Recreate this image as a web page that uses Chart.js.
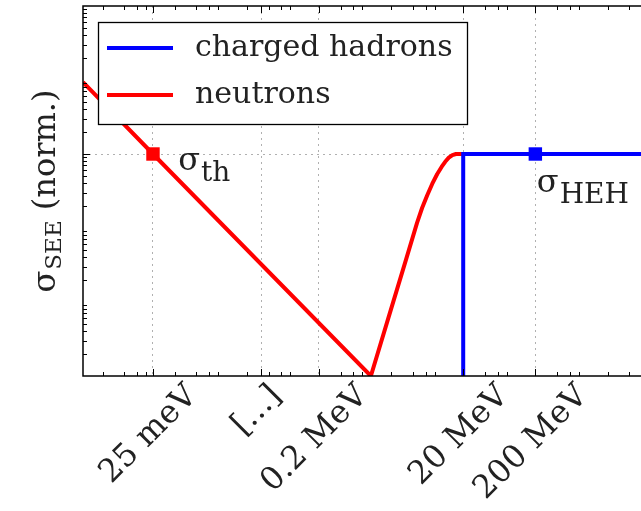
<!DOCTYPE html>
<html>
<head>
<meta charset="utf-8">
<script src="https://cdn.jsdelivr.net/npm/chart.js@4.4.1/dist/chart.umd.min.js"></script>
<style>
  html, body { margin: 0; padding: 0; background: #fff; overflow: hidden; }
  canvas { display: block; }
</style>
</head>
<body>
<canvas id="see-chart" width="670" height="511"></canvas>
<script>
// x is log10(E / eV) with the thermal region pulled in next to the keV range,
// y is 2*log10(sigma) in arbitrary normalised units
var xTickValues = [3.0, 4.5, 5.3, 7.3, 8.3];
var xTickLabels = ['25 meV', '[...]', '0.2 MeV', '20 MeV', '200 MeV'];
var yGridValues = [6];

var neutronX = [2.03, 3.0, 6.02, 6.26, 6.50, 6.66, 6.73, 6.80, 6.87, 6.94, 7.00, 7.05, 7.10, 7.15, 7.20, 7.30];
var neutronY = [7.94, 6.0, 0.0, 1.55, 3.10, 4.14, 4.54, 4.88, 5.19, 5.46, 5.65, 5.79, 5.90, 5.97, 6.0, 6.0];
var neutronMark = [false, true, false, false, false, false, false, false, false, false, false, false, false, false, false, false];

var hadronX = [7.3, 7.3, 8.3, 10.0];
var hadronY = [0.0, 6.0, 6.0, 6.0];
var hadronMark = [false, false, true, false];

// label text + where it sits (data coords of the left baseline)
var sigmaLabels = [
    { base: 'σ', sub: 'th', x: 3.35, y: 5.57 },
    { base: 'σ', sub: 'HEH', x: 8.32, y: 4.97 }
];

var SERIF = '"DejaVu Serif", "Liberation Serif", serif';

function toPoints(xs, ys, marks) {
    return xs.map(function (x, i) { return { x: x, y: ys[i], m: marks[i] }; });
}

function markRadius(ctx) {
    return ctx.raw && ctx.raw.m ? 9.5 : 0;
}

// draws base text with a lowered subscript, returns total width
function drawSub(ctx, base, sub, x, y, baseSize, subSize, drop) {
    ctx.font = baseSize + 'px ' + SERIF;
    ctx.fillText(base, x, y);
    var w = ctx.measureText(base).width;
    ctx.font = subSize + 'px ' + SERIF;
    ctx.fillText(sub, x + w + 1, y + drop);
    return w + 1 + ctx.measureText(sub).width;
}

var framePlugin = {
    id: 'frame',
    afterDatasetsDraw: function (chart) {
        var ctx = chart.ctx, a = chart.chartArea;
        var xs = chart.scales.x, ys = chart.scales.y;
        ctx.save();
        ctx.strokeStyle = '#000';
        ctx.lineWidth = 1;

        // inward minor ticks, log style at 2,4,6,8 per decade on x
        var xm = [2, 4, 6, 8];
        for (var n = 2; n <= 9; n++) {
            xm.forEach(function (m) {
                var v = n + Math.log10(m);
                if (v <= xs.min || v >= xs.max) return;
                var px = Math.round(xs.getPixelForValue(v)) + 0.5;
                ctx.beginPath();
                ctx.moveTo(px, a.bottom); ctx.lineTo(px, a.bottom - 4);
                ctx.moveTo(px, a.top); ctx.lineTo(px, a.top + 4);
                ctx.stroke();
            });
        }
        xTickValues.forEach(function (v) {
            var px = Math.round(xs.getPixelForValue(v)) + 0.5;
            ctx.beginPath();
            ctx.moveTo(px, a.bottom); ctx.lineTo(px, a.bottom - 7);
            ctx.moveTo(px, a.top); ctx.lineTo(px, a.top + 7);
            ctx.stroke();
        });
        // y minor ticks, 2..9 per decade
        for (var d = 0; d < 5; d++) {
            for (var k = 2; k <= 9; k++) {
                var py = Math.round(ys.getPixelForValue(2 * (d + Math.log10(k)))) + 0.5;
                ctx.beginPath();
                ctx.moveTo(a.left, py); ctx.lineTo(a.left + 4, py);
                ctx.stroke();
            }
        }
        yGridValues.forEach(function (v) {
            var py = Math.round(ys.getPixelForValue(v)) + 0.5;
            ctx.beginPath();
            ctx.moveTo(a.left, py); ctx.lineTo(a.left + 7, py);
            ctx.stroke();
        });

        ctx.lineWidth = 1.5;
        ctx.strokeRect(a.left, a.top, a.right - a.left, a.bottom - a.top);
        ctx.restore();
    },
    afterDraw: function (chart) {
        var ctx = chart.ctx, a = chart.chartArea;
        var xs = chart.scales.x, ys = chart.scales.y;
        ctx.save();
        ctx.fillStyle = '#222';

        // rotated energy labels, centred under their tick
        ctx.font = '32px ' + SERIF;
        xTickLabels.forEach(function (lab, i) {
            var x = xs.getPixelForValue(xTickValues[i]);
            var w = ctx.measureText(lab).width;
            var half = (w + 23) * Math.SQRT1_2 / 2;
            ctx.save();
            ctx.translate(x - 4, a.bottom + 7 + half);
            ctx.rotate(-Math.PI / 4);
            ctx.textAlign = 'center';
            ctx.textBaseline = 'middle';
            ctx.fillText(lab, 0, 0);
            ctx.restore();
        });

        // y title: sigma_SEE (norm.)
        ctx.save();
        ctx.translate(55, (a.top + a.bottom) / 2);
        ctx.rotate(-Math.PI / 2);
        ctx.textBaseline = 'alphabetic';
        ctx.textAlign = 'left';
        ctx.font = '32px ' + SERIF;
        var w1 = ctx.measureText('σ').width;
        var w3 = ctx.measureText(' (norm.)').width;
        ctx.font = '23px ' + SERIF;
        var w2 = ctx.measureText('SEE').width;
        var x0 = -(w1 + w2 + w3 + 1) / 2;
        var used = drawSub(ctx, 'σ', 'SEE', x0, 0, 32, 23, 6);
        ctx.font = '32px ' + SERIF;
        ctx.fillText(' (norm.)', x0 + used, 0);
        ctx.restore();

        // point annotations
        sigmaLabels.forEach(function (s) {
            drawSub(ctx, s.base, s.sub, xs.getPixelForValue(s.x), ys.getPixelForValue(s.y), 32, 28, 11);
        });

        // legend box in the upper left of the axes
        var lx = a.left + 15, ly = a.top + 16, lw = 369, lh = 102;
        ctx.fillStyle = '#fff';
        ctx.fillRect(lx, ly, lw, lh);
        ctx.strokeStyle = '#000';
        ctx.lineWidth = 1.3;
        ctx.strokeRect(lx + 0.5, ly + 0.5, lw, lh);
        chart.data.datasets.forEach(function (ds, i) {
            var yy = ly + 26 + i * 47;
            ctx.strokeStyle = ds.borderColor;
            ctx.lineWidth = 4;
            ctx.beginPath();
            ctx.moveTo(lx + 9, yy); ctx.lineTo(lx + 75, yy);
            ctx.stroke();
            ctx.fillStyle = '#222';
            ctx.font = '30px ' + SERIF;
            ctx.textBaseline = 'middle';
            ctx.fillText(ds.label, lx + 97, yy);
        });
        ctx.restore();
    }
};

var gridLine = {
    color: '#b0b0b0',
    lineWidth: 1,
    drawTicks: false
};

new Chart(document.getElementById('see-chart').getContext('2d'), {
    type: 'line',
    data: {
        datasets: [{
            label: 'charged hadrons',
            data: toPoints(hadronX, hadronY, hadronMark),
            borderColor: '#0000ff',
            backgroundColor: '#0000ff',
            borderWidth: 4,
            pointStyle: 'rect',
            pointRadius: markRadius,
            pointBorderWidth: 0,
            tension: 0
        }, {
            label: 'neutrons',
            data: toPoints(neutronX, neutronY, neutronMark),
            borderColor: '#ff0000',
            backgroundColor: '#ff0000',
            borderWidth: 4,
            borderJoinStyle: 'round',
            pointStyle: 'rect',
            pointRadius: markRadius,
            pointBorderWidth: 0,
            tension: 0
        }]
    },
    options: {
        responsive: false,
        animation: false,
        devicePixelRatio: 1,
        layout: { padding: { left: 83, right: 12, top: 6, bottom: 135 } },
        plugins: { legend: { display: false }, tooltip: { enabled: false } },
        scales: {
            x: {
                type: 'linear',
                min: 2.03,
                max: 10.0,
                afterBuildTicks: function (axis) {
                    axis.ticks = xTickValues.map(function (v) { return { value: v }; });
                },
                ticks: { display: false },
                grid: gridLine,
                border: { display: false, dash: [2, 4] }
            },
            y: {
                type: 'linear',
                min: 0,
                max: 10,
                afterBuildTicks: function (axis) {
                    axis.ticks = yGridValues.map(function (v) { return { value: v }; });
                },
                ticks: { display: false },
                grid: gridLine,
                border: { display: false, dash: [2, 4] }
            }
        }
    },
    plugins: [framePlugin]
});
</script>
</body>
</html>
